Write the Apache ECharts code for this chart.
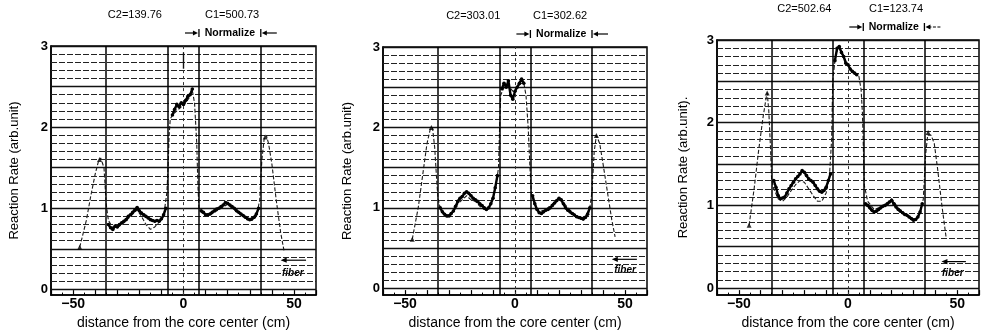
<!DOCTYPE html>
<html>
<head>
<meta charset="utf-8">
<script src="https://cdn.jsdelivr.net/npm/echarts@6/dist/echarts.min.js"></script>
<style>
  html, body { margin: 0; padding: 0; background: #fff; }
  #chart { width: 982px; height: 335px; }
</style>
</head>
<body>
<div id="chart"></div>
<script>
// ---- axis structure ----
const xLabelValues = [-50, 0, 50];
const yLabelValues = [0, 1, 2, 3];
const regionBounds = [-35, -7, 7, 35];          // solid vertical boundaries (cm)
const majorLevels = [0, 0.5, 1, 1.5, 2, 2.5, 3]; // solid horizontal rules
const yMins = [-0.07, -0.085, -0.085];

// ---- normalisation constants shown above each panel ----
const c2Text = ['C2=139.76', 'C2=303.01', 'C2=502.64'];
const c1Text = ['C1=500.73', 'C1=302.62', 'C1=123.74'];

// ---- panel 1 ----
const calc1 = [[-47,0.52],[-44,0.85],[-42,1.15],[-40,1.42],[-38.5,1.58],[-37.5,1.62],[-36,1.5],[-35,1.05],[-34,0.85],
  [-32,0.76],[-30,0.76],[-27,0.82],[-24,0.9],[-21,0.98],[-19,0.9],[-17,0.8],[-15,0.74],[-13,0.77],[-11,0.83],[-9,0.9],
  [-7.5,1.2],[-7,1.5],[-6.5,1.9],[-6,2.1],[-5,2.15],[-3,2.2],[-1,2.25],[1,2.3],[3,2.38],[4,2.45],[5,2.3],[6,1.8],
  [6.5,1.3],[7,1.0],[8,0.95],[11,0.9],[14,0.95],[17,1.0],[20,1.05],[23,0.98],[26,0.92],[29,0.86],[31,0.85],[33,0.9],
  [34.5,1.1],[35.5,1.6],[36.5,1.85],[37.5,1.9],[38.5,1.8],[40,1.55],[42,1.1],[44,0.7],[45.5,0.48]];
const meas1L = [[-34,0.8],[-33,0.76],[-32,0.74],[-31,0.78],[-30,0.77],[-29,0.8],[-28,0.82],[-27,0.84],[-26,0.86],
  [-25,0.9],[-24,0.92],[-23,0.95],[-22,0.98],[-21,1.01],[-20,0.97],[-19,0.94],[-18,0.92],[-17,0.9],[-16,0.88],
  [-15,0.86],[-14,0.85],[-13,0.84],[-12,0.85],[-11,0.84],[-10,0.87],[-9,0.92],[-8,1.0]];
const meas1C = [[-5,2.15],[-4,2.22],[-3,2.28],[-2,2.25],[-1,2.3],[0,2.28],[1,2.33],[2,2.38],[3,2.4],[4,2.47]];
const meas1R = [[8,0.97],[9,0.95],[10,0.92],[11,0.92],[12,0.93],[13,0.95],[14,0.97],[15,0.99],[16,1.0],[17,1.02],
  [18,1.04],[19,1.07],[20,1.06],[21,1.04],[22,1.02],[23,1.0],[24,0.97],[25,0.95],[26,0.93],[27,0.91],[28,0.89],
  [29,0.87],[30,0.86],[31,0.87],[32,0.89],[33,0.93],[34,1.0]];
const peaks1 = [[-47,0.52],[-38,1.6],[37,1.88]];

// ---- panel 2 ----
const calc2 = [[-46.7,0.61],[-44,1.0],[-42,1.4],[-40,1.8],[-38.5,1.98],[-37.5,2.0],[-36.5,1.75],[-35.5,1.3],[-35,1.12],
  [-34,1.0],[-32,0.9],[-30,0.88],[-28,0.95],[-26,1.05],[-24,1.1],[-22,1.15],[-20,1.1],[-18,1.08],[-16,1.02],[-14,0.98],
  [-12,1.0],[-10,1.12],[-8.5,1.3],[-7.5,1.5],[-7,2.0],[-6.5,2.4],[-5,2.5],[-3,2.52],[-1,2.45],[1,2.5],[3,2.55],[4,2.55],
  [5,2.4],[6,2.0],[6.8,1.5],[7.5,1.15],[9,1.05],[11,0.95],[14,0.98],[17,1.05],[20,1.12],[21,1.1],[24,1.0],[27,0.92],
  [30,0.87],[32,0.9],[34,1.0],[35,1.2],[36,1.7],[37,1.9],[38.5,1.8],[40,1.55],[42,1.2],[44,0.85],[45.5,0.64]];
const meas2L = [[-34,1.0],[-33,0.95],[-32,0.92],[-31,0.9],[-30,0.9],[-29,0.93],[-28,0.96],[-27,1.02],[-26,1.08],
  [-25,1.12],[-24,1.14],[-23,1.18],[-22,1.2],[-21,1.18],[-20,1.15],[-19,1.12],[-18,1.1],[-17,1.08],[-16,1.05],
  [-15,1.03],[-14,1.0],[-13,0.98],[-12,1.0],[-11,1.05],[-10,1.12],[-9,1.25],[-8,1.4]];
const meas2C = [[-6,2.48],[-5,2.55],[-4,2.5],[-3,2.58],[-2,2.4],[-1,2.35],[0,2.45],[1,2.5],[2,2.55],[3,2.6],[4,2.55]];
const meas2R = [[8,1.15],[9,1.05],[10,0.98],[11,0.94],[12,0.93],[13,0.95],[14,0.97],[15,0.98],[16,1.0],[17,1.03],
  [18,1.06],[19,1.09],[20,1.12],[21,1.1],[22,1.05],[23,1.0],[24,0.97],[25,0.95],[26,0.93],[27,0.91],[28,0.89],
  [29,0.88],[30,0.87],[31,0.86],[32,0.88],[33,0.92],[34,1.0]];
const peaks2 = [[-46.7,0.61],[-38,2.0],[37,1.9]];

// ---- panel 3 ----
const calc3 = [[-45.3,0.76],[-43,1.2],[-41,1.65],[-39,2.05],[-37.5,2.3],[-37,2.36],[-36.3,2.15],[-35.5,1.7],[-35,1.32],
  [-34,1.2],[-32,1.08],[-30,1.05],[-28,1.1],[-26,1.18],[-24,1.25],[-22,1.3],[-20,1.28],[-18,1.2],[-16,1.12],[-14,1.05],
  [-12,1.05],[-10,1.15],[-8.5,1.35],[-7.5,1.8],[-7,2.5],[-6,2.75],[-4.5,2.92],[-3,2.85],[-1,2.75],[1,2.65],[3,2.6],
  [5,2.56],[6,2.4],[6.6,2.12],[7.5,1.24],[9,1.05],[12,0.95],[15,0.98],[18,1.03],[20,1.08],[23,0.97],[26,0.9],[29,0.85],
  [31,0.83],[33,0.9],[34.5,1.08],[35.5,1.6],[36.5,1.85],[38,1.85],[39.5,1.75],[41,1.45],[43,1.0],[45,0.6]];
const meas3L = [[-34,1.3],[-33,1.22],[-32,1.12],[-31,1.08],[-30,1.09],[-29,1.1],[-28,1.15],[-27,1.2],[-26,1.24],
  [-25,1.28],[-24,1.32],[-23,1.35],[-22,1.38],[-21,1.42],[-20,1.4],[-19,1.36],[-18,1.32],[-17,1.3],[-16,1.28],
  [-15,1.24],[-14,1.2],[-13,1.17],[-12,1.16],[-11,1.18],[-10,1.22],[-9,1.3],[-8,1.38]];
const meas3C = [[-6,2.75],[-5,2.9],[-4,2.92],[-3,2.85],[-2,2.8],[-1,2.72],[0,2.7],[1,2.65],[2,2.62],[3,2.6],[4,2.58]];
const meas3R = [[8,1.02],[9,1.0],[10,0.97],[11,0.94],[12,0.92],[13,0.93],[14,0.95],[15,0.97],[16,0.99],[17,1.0],
  [18,1.02],[19,1.04],[20,1.06],[21,1.02],[22,0.98],[23,0.95],[24,0.93],[25,0.91],[26,0.89],[27,0.88],[28,0.86],
  [29,0.84],[30,0.82],[31,0.83],[32,0.86],[33,0.92],[34,1.02]];
const peaks3 = [[-45.3,0.76],[-37,2.36],[36.7,1.88]];

// error bar drawn on the centre line of the first panel: [x, low, high]
const errBar1 = [0, 2.72, 2.92];

const calcSets = [calc1, calc2, calc3];
const measSets = [[meas1L, meas1C, meas1R], [meas2L, meas2C, meas2R], [meas3L, meas3C, meas3R]];
const peakSets = [peaks1, peaks2, peaks3];

// ---- annotation anchors in data units ----
const c2LabelX = [-22, -19, -20];
const c1LabelX = [22, 20.5, 22];
const fiberArrow = [[55.5, 44, 0.36], [55.4, 44, 0.36], [54, 42.8, 0.32]]; // [from x, to x, y]
const fiberText = [[49.5, 0.2], [50, 0.22], [48, 0.18]];

const FONT = '"Liberation Sans", Arial, Helvetica, sans-serif';
const gridBoxes = [
  { left: 51, top: 46, width: 265, height: 257 },
  { left: 383, top: 47, width: 264, height: 253 },
  { left: 717, top: 40, width: 264, height: 257 }
];
const yNameGaps = [30, 29, 27];
const yNames = ['Reaction Rate (arb.unit)', 'Reaction Rate (arb.unit)', 'Reaction Rate (arb.unit).'];

const chart = echarts.init(document.getElementById('chart'), null, { renderer: 'canvas' });

function fineLevels() {
  const out = [];
  for (let k = 1; k < 30; k++) {
    if (k % 5 !== 0) out.push(+(k / 10).toFixed(1));
  }
  return out;
}

function panelMarkLines(i) {
  const data = [];
  fineLevels().forEach(v => data.push({ yAxis: v, lineStyle: { color: '#222', width: 1, type: [6, 2] } }));
  majorLevels.forEach(v => data.push({ yAxis: v, lineStyle: { color: '#111', width: 1.3, type: 'solid' } }));
  regionBounds.forEach(v => data.push({ xAxis: v, lineStyle: { color: '#000', width: 1.5, type: 'solid' } }));
  data.push({ xAxis: 0, lineStyle: { color: '#333', width: 1, type: [3, 3] } });
  if (i === 0) {
    data.push([{ coord: [errBar1[0], errBar1[1]] }, { coord: [errBar1[0], errBar1[2]], lineStyle: { color: '#111', width: 1.4, type: 'solid' } }]);
  }
  return {
    silent: true,
    symbol: 'none',
    label: { show: false },
    emphasis: { disabled: true },
    animation: false,
    data: data
  };
}

const grids = gridBoxes.map(b => Object.assign({
  show: true, borderColor: '#000', borderWidth: 1.5, backgroundColor: 'transparent', containLabel: false
}, b));

const xAxes = gridBoxes.map((b, i) => ({
  type: 'value', gridIndex: i, min: -60, max: 60, interval: 10,
  name: 'distance from the core center (cm)', nameLocation: 'middle', nameGap: 14,
  nameTextStyle: { fontFamily: FONT, fontSize: 14, color: '#000' },
  axisLine: { show: true, onZero: false, lineStyle: { color: '#000', width: 1.5 } },
  axisTick: { show: true, inside: true, length: 5, lineStyle: { color: '#000', width: 1.2 } },
  minorTick: { show: true, splitNumber: 2, length: 2.5, lineStyle: { color: '#000', width: 1 } },
  splitLine: { show: false },
  axisLabel: {
    margin: 2, fontFamily: FONT, fontSize: 14, fontWeight: 'bold', color: '#000',
    formatter: v => xLabelValues.includes(v) ? String(v).replace('-', '\u2212') : ''
  }
}));

const yAxes = gridBoxes.map((b, i) => ({
  type: 'value', gridIndex: i, min: yMins[i], max: 3,
  name: yNames[i], nameLocation: 'middle', nameGap: yNameGaps[i], nameRotate: 90,
  nameTextStyle: { fontFamily: FONT, fontSize: 13, color: '#000' },
  axisLine: { show: true, onZero: false, lineStyle: { color: '#000', width: 1.5 } },
  axisTick: { show: false },
  splitLine: { show: false },
  axisLabel: {
    customValues: yLabelValues, margin: 3, fontFamily: FONT, fontSize: 13, fontWeight: 'bold', color: '#000',
    formatter: v => String(Math.round(v))
  }
}));

const series = [];
for (let i = 0; i < 3; i++) {
  series.push({
    name: 'calc' + (i + 1), type: 'line', xAxisIndex: i, yAxisIndex: i,
    data: calcSets[i], showSymbol: false, smooth: false, z: 3,
    lineStyle: { color: '#1a1a1a', width: 1.1, type: [4, 2] },
    markLine: panelMarkLines(i)
  });
  measSets[i].forEach((seg, k) => {
    series.push({
      name: 'meas' + (i + 1) + '-' + k, type: 'line', xAxisIndex: i, yAxisIndex: i,
      data: seg, symbol: 'circle', symbolSize: 3.6, showSymbol: true, z: 5,
      itemStyle: { color: '#000' },
      lineStyle: { color: '#000', width: 2.4 }
    });
  });
  series.push({
    name: 'peak' + (i + 1), type: 'scatter', xAxisIndex: i, yAxisIndex: i,
    data: peakSets[i], symbol: 'triangle', symbolSize: 5, z: 6,
    itemStyle: { color: '#000' }
  });
}

chart.setOption({
  animation: false,
  backgroundColor: '#fff',
  grid: grids,
  xAxis: xAxes,
  yAxis: yAxes,
  series: series
});

// text and arrows placed from the axes' own scales
function arrow(x1, y, x2, headLen, g, dashed) {
  const dir = x2 > x1 ? 1 : -1;
  g.push({ type: 'line', silent: true, z: 20,
    shape: { x1: x1, y1: y, x2: x2 - dir * headLen * 0.6, y2: y },
    style: { stroke: '#000', lineWidth: 1.2, lineDash: dashed ? [3, 1.5] : null } });
  g.push({ type: 'polygon', silent: true, z: 20,
    shape: { points: [[x2, y], [x2 - dir * headLen, y - 2.6], [x2 - dir * headLen, y + 2.6]] },
    style: { fill: '#000' } });
}

function buildAnnotations() {
  const g = [];
  for (let i = 0; i < 3; i++) {
    const toPx = (x, y) => chart.convertToPixel({ gridIndex: i }, [x, y]);
    const top = toPx(0, 3)[1];
    const textStyle = { fontFamily: FONT, fill: '#000', align: 'center', verticalAlign: 'middle' };

    g.push({ type: 'text', silent: true, x: toPx(c2LabelX[i], 3)[0], y: top - 31,
      style: Object.assign({ text: c2Text[i], fontSize: 11 }, textStyle) });
    g.push({ type: 'text', silent: true, x: toPx(c1LabelX[i], 3)[0], y: top - 31,
      style: Object.assign({ text: c1Text[i], fontSize: 11 }, textStyle) });

    // "Normalize" bracket between the inner and outer boundaries of the right region
    const bx1 = toPx(regionBounds[2], 3)[0];
    const bx2 = toPx(regionBounds[3], 3)[0];
    const ny = top - 13;
    g.push({ type: 'line', silent: true, shape: { x1: bx1, y1: ny - 4, x2: bx1, y2: ny + 4 }, style: { stroke: '#000', lineWidth: 1.3 } });
    g.push({ type: 'line', silent: true, shape: { x1: bx2, y1: ny - 4, x2: bx2, y2: ny + 4 }, style: { stroke: '#000', lineWidth: 1.3 } });
    arrow(bx1 - 14, ny, bx1 - 1, 5, g, false);
    arrow(bx2 + 16, ny, bx2 + 1, 5, g, i === 2);
    g.push({ type: 'text', silent: true, x: (bx1 + bx2) / 2, y: ny,
      style: Object.assign({ text: 'Normalize', fontSize: 10.5, fontWeight: 'bold' }, textStyle) });

    // fiber position marker
    const a = fiberArrow[i];
    const p1 = toPx(a[0], a[2]);
    const p2 = toPx(a[1], a[2]);
    arrow(p1[0], p1[1], p2[0], 6, g, false);
    const t = toPx(fiberText[i][0], fiberText[i][1]);
    g.push({ type: 'text', silent: true, x: t[0], y: t[1],
      style: Object.assign({ text: 'fiber', fontSize: 10, fontWeight: 'bold', fontStyle: 'italic' }, textStyle) });
  }
  return g;
}

chart.setOption({ graphic: buildAnnotations() });
</script>
</body>
</html>
